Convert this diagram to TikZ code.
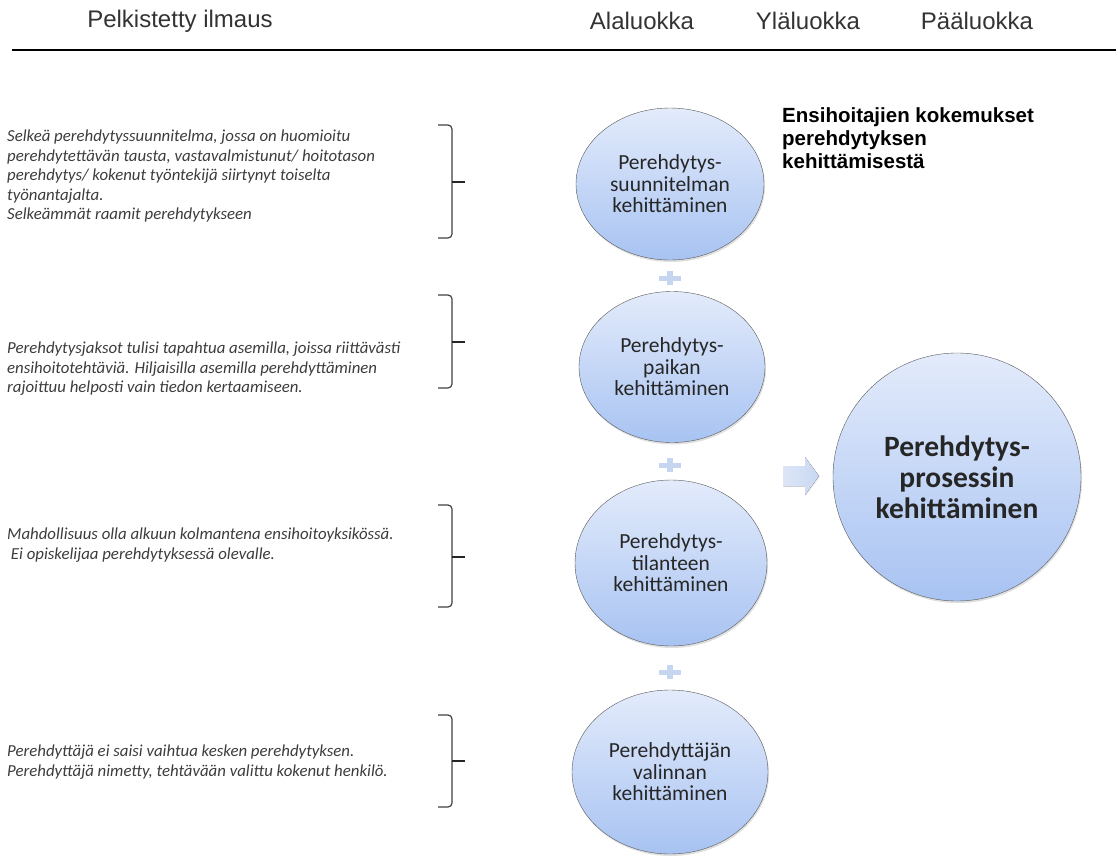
\documentclass[tikz,border=0pt]{standalone}
\usepackage{fontspec}
\setmainfont{Carlito}
\newfontfamily\arialfont{Liberation Sans}
\usepackage{xcolor}
\usetikzlibrary{shapes.geometric,shadows}

\definecolor{circtop}{HTML}{E3EBFB}
\definecolor{circbot}{HTML}{A8C3F2}
\definecolor{plusblue}{HTML}{C6D6F0}
\definecolor{arrleft}{HTML}{DDE6F7}
\definecolor{arrright}{HTML}{C8D8F2}
\definecolor{quotegray}{HTML}{3C3C3C}

\begin{document}
\begin{tikzpicture}[
    x=1pt,y=-1pt,
    every node/.style={inner sep=0pt},
    hdr/.style={font=\arialfont\fontsize{24}{26}\selectfont,text=black!80},
    quote/.style={anchor=north west,align=left,text=quotegray,
                  font=\fontsize{16.8}{19.5}\selectfont\itshape},
    sub/.style={ellipse,draw=black!65,thin,top color=circtop,bottom color=circbot,
                align=center,text=black!85,font=\fontsize{21.5}{21.5}\selectfont,
                drop shadow={opacity=0.25,shadow xshift=1pt,shadow yshift=-2pt}},
    brk/.style={draw=black!75,line width=1.2pt,rounded corners=4pt},
  ]
  \useasboundingbox (0,0) rectangle (1116,856);

  % -- column headings --
  \node[hdr] (hilm) at (180,21) {Pelkistetty ilmaus};
  \node[hdr] (hala) at (642,21) {Alaluokka};
  \node[hdr] (hyla) at (808,21) {Yläluokka};
  \node[hdr] (hpaa) at (977,21) {Pääluokka};
  \draw[line width=1.5pt] (12,50) -- (1116,50);

  % -- reduced expressions --
  \node[quote] (q1) at (7,130)
       {Selkeä perehdytyssuunnitelma, jossa on huomioitu\\
        perehdytettävän tausta, vastavalmistunut/ hoitotason\\
        perehdytys/ kokenut työntekijä siirtynyt toiselta\\
        työnantajalta.\\
        Selkeämmät raamit perehdytykseen};
  \node[quote] (q2) at (7,342)
       {Perehdytysjaksot tulisi tapahtua asemilla, joissa riittävästi\\
        ensihoitotehtäviä. Hiljaisilla asemilla perehdyttäminen\\
        rajoittuu helposti vain tiedon kertaamiseen.};
  \node[quote] (q3) at (7,528)
       {Mahdollisuus olla alkuun kolmantena ensihoitoyksikössä.\\
        \mbox{}\ Ei opiskelijaa perehdytyksessä olevalle.};
  \node[quote] (q4) at (7,745)
       {Perehdyttäjä ei saisi vaihtua kesken perehdytyksen.\\
        Perehdyttäjä nimetty, tehtävään valittu kokenut henkilö.};

  % -- brackets --
  \foreach \t/\m/\b in {125/182/238,295/342/388,505/557/607,715/761/807}{
    \draw[brk] (438,\t) -- (452,\t) -- (452,\b) -- (438,\b);
    \draw[line width=2.2pt,black!85] (452,\m) -- (465,\m);
  }

  % -- subcategories --
  \node[sub,minimum width=188,minimum height=152] (s1) at (670,184)
       {Perehdytys-\\suunnitelman\\kehittäminen};
  \node[sub,minimum width=186,minimum height=151] (s2) at (672,367)
       {Perehdytys-\\paikan\\kehittäminen};
  \node[sub,minimum width=192,minimum height=166] (s3) at (671,563)
       {Perehdytys-\\tilanteen\\kehittäminen};
  \node[sub,minimum width=196,minimum height=164] (s4) at (670,772)
       {Perehdyttäjän\\valinnan\\kehittäminen};

  \foreach \y in {278,465,672}{
    \fill[plusblue] (659,\y-2.5) rectangle (681,\y+2.5);
    \fill[plusblue] (667,\y-7) rectangle (673,\y+7);
  }

  % -- main category --
  \node[sub,circle,minimum size=248,font=\fontsize{29.5}{31}\selectfont\bfseries]
       (pro) at (957,477) {Perehdytys-\\prosessin\\kehittäminen};
  \fill[left color=arrleft,right color=arrright,
        drop shadow={opacity=0.15,shadow xshift=1pt,shadow yshift=-1pt}]
       (783,466) -- (805,466) -- (805,457) -- (819,476)
       -- (805,495) -- (805,486) -- (783,486) -- cycle;

  \node[anchor=north west,align=left,font=\arialfont\fontsize{20.5}{23}\selectfont\bfseries]
       (ttl) at (782,107)
       {Ensihoitajien kokemukset\\perehdytyksen\\kehittämisestä};
\end{tikzpicture}
\end{document}
